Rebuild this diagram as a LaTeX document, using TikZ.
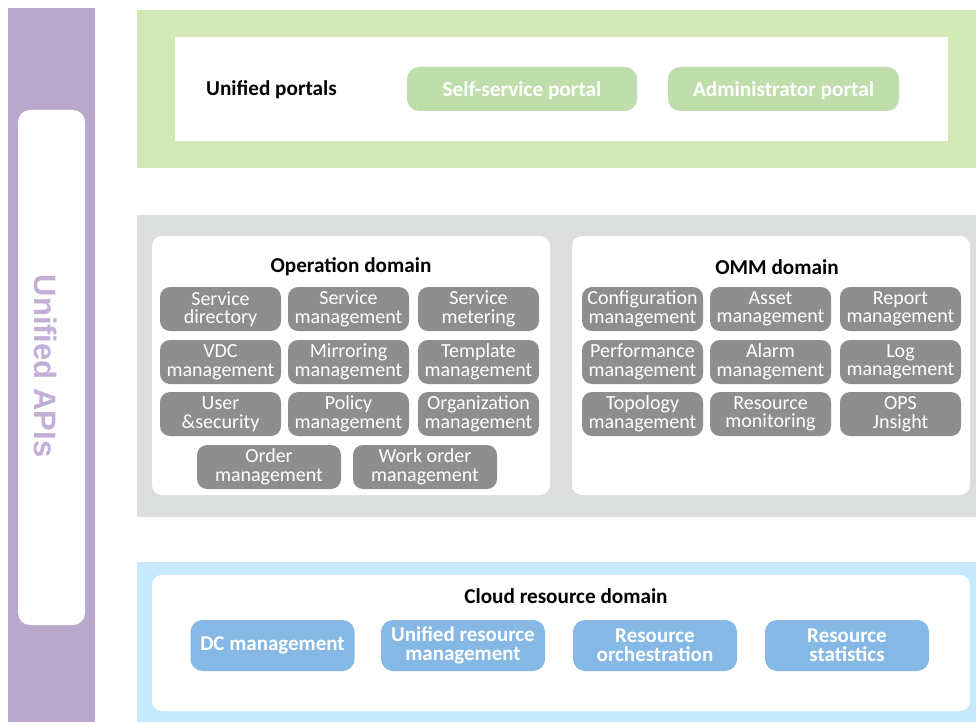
\documentclass[tikz,border=0pt]{standalone}
\usepackage{fontspec}
\setmainfont{Carlito}
\newfontfamily\apifont{Liberation Sans}
\definecolor{apipurple}{HTML}{BAA8CC}
\definecolor{apitext}{HTML}{C3AFD6}
\definecolor{portalband}{HTML}{D2E9B6}
\definecolor{portalbtn}{HTML}{C0DEAC}
\definecolor{midband}{HTML}{DCDDDD}
\definecolor{graybtn}{HTML}{8E8E8E}
\definecolor{cloudband}{HTML}{C6EAFB}
\definecolor{bluebtn}{HTML}{86B8E5}
\tikzset{
  funcbox/.style={fill=graybtn, text=white, rounded corners=10pt, inner sep=0pt,
    minimum width=121pt, minimum height=44pt, align=center,
    font=\fontsize{20}{18.5}\selectfont},
  portalbox/.style={fill=portalbtn, text=white, rounded corners=12pt, inner sep=0pt,
    minimum width=230pt, minimum height=44pt, text height=19pt, text depth=4pt,
    font=\fontsize{21.3}{21}\selectfont\bfseries},
  cloudbox/.style={fill=bluebtn, text=white, rounded corners=12pt, inner sep=0pt,
    minimum width=164pt, minimum height=51pt, align=center,
    font=\fontsize{21}{19.5}\selectfont\bfseries},
  domaintitle/.style={font=\fontsize{21.2}{21}\selectfont\bfseries, text=black, inner sep=0pt},
  panel/.style={fill=white, rounded corners=10pt}
}
\begin{document}
\begin{tikzpicture}[x=1pt, y=-1pt]
\useasboundingbox (0,0) rectangle (976,722);

% unified API column
\fill[apipurple] (8,8) rectangle (95,722);
\fill[white, rounded corners=12pt] (18,110) rectangle (85,625);
\node[rotate=-90, text=apitext, inner sep=0pt, font=\apifont\fontsize{31}{31}\selectfont\bfseries] (api) at (46,366) {Unified APIs};

% portal layer
\fill[portalband] (137,10) rectangle (976,168);
\fill[white] (175,37) rectangle (948,141);
\node[domaintitle, anchor=west] (portals) at (206,89.5) {Unified portals};
\node[portalbox] (selfsvc) at (522,89) {Self-service portal};
\node[portalbox, minimum width=231pt] (admin) at (783.5,89) {Administrator portal};

% operation and OMM layer
\fill[midband] (137,215) rectangle (976,517);
\fill[panel] (152,236) rectangle (550,495);
\fill[panel] (572,236) rectangle (970,495);
\node[domaintitle] (optitle) at (351,267) {Operation domain};
\node[domaintitle] (ommtitle) at (777,267) {OMM domain};

% operation domain functions
\node[funcbox] (o11) at (220.5,309) {Service\\directory};
\node[funcbox] (o12) at (348.5,309) {Service\\management};
\node[funcbox] (o13) at (478.5,309) {Service\\metering};
\node[funcbox] (o21) at (220.5,362) {VDC\\management};
\node[funcbox] (o22) at (348.5,362) {Mirroring\\management};
\node[funcbox] (o23) at (478.5,362) {Template\\management};
\node[funcbox] (o31) at (220.5,414) {User\\\&security};
\node[funcbox] (o32) at (348.5,414) {Policy\\management};
\node[funcbox] (o33) at (478.5,414) {Organization\\management};
\node[funcbox, minimum width=144pt] (o41) at (269,467) {Order\\management};
\node[funcbox, minimum width=144pt] (o42) at (425,467) {Work order\\management};

% OMM domain functions
\node[funcbox] (m11) at (642.5,309) {Configuration\\management};
\node[funcbox] (m12) at (770.5,309) {Asset\\management};
\node[funcbox] (m13) at (900.5,309) {Report\\management};
\node[funcbox] (m21) at (642.5,362) {Performance\\management};
\node[funcbox] (m22) at (770.5,362) {Alarm\\management};
\node[funcbox] (m23) at (900.5,362) {Log\\management};
\node[funcbox] (m31) at (642.5,414) {Topology\\management};
\node[funcbox] (m32) at (770.5,414) {Resource\\monitoring};
\node[funcbox] (m33) at (900.5,414) {OPS\\Jnsight};

% cloud resource layer
\fill[cloudband] (137,562) rectangle (976,722);
\fill[panel] (152,575) rectangle (970,711);
\node[domaintitle] (cloudtitle) at (566,596) {Cloud resource domain};
\node[cloudbox] (dc) at (272.5,645.5) {DC management};
\node[cloudbox] (urm) at (463,645.5) {Unified resource\\management};
\node[cloudbox] (orch) at (655,645.5) {Resource\\orchestration};
\node[cloudbox] (stats) at (847,645.5) {Resource\\statistics};
\end{tikzpicture}
\end{document}
